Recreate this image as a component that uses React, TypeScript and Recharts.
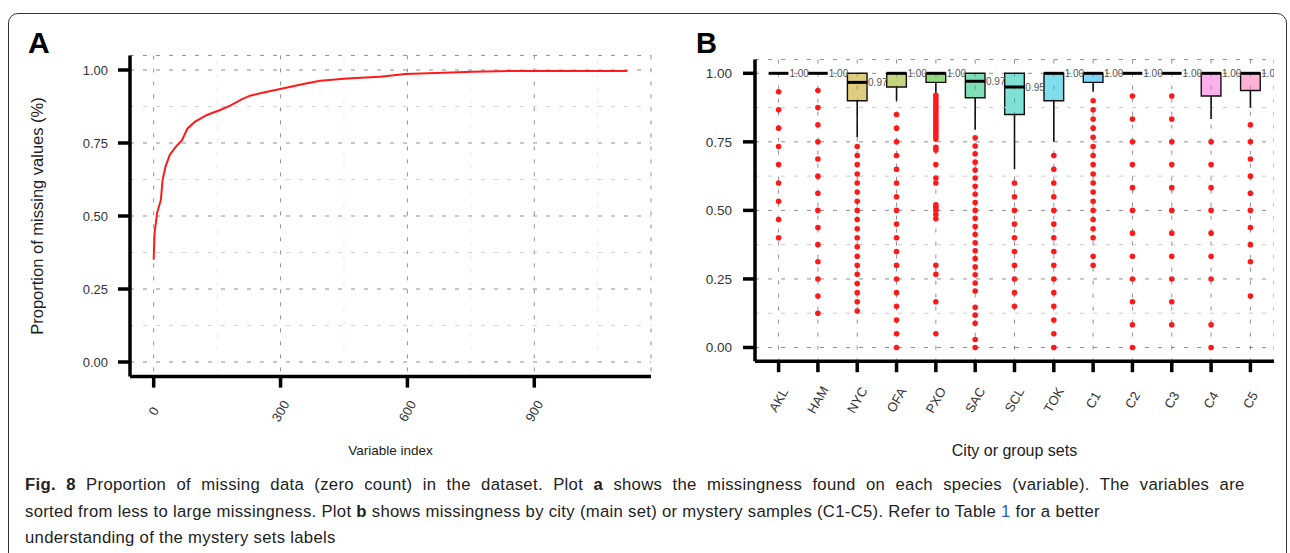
import React from 'react';
import {
  LineChart,
  Line,
  ComposedChart,
  Scatter,
  XAxis,
  YAxis,
  CartesianGrid,
  ReferenceLine,
  ReferenceArea,
} from 'recharts';

const FONT = '"Liberation Sans", Arial, Helvetica, sans-serif';

// ---------- Panel A data ----------
const curveIndex = [0, 2, 8, 17, 21, 28, 38, 51, 67, 80, 98, 126, 157, 181, 209, 228, 260, 299, 354, 394, 457, 535, 595, 685, 755, 865, 1120];
const curveProp = [0.35, 0.44, 0.51, 0.555, 0.623, 0.669, 0.709, 0.735, 0.76, 0.8, 0.823, 0.846, 0.863, 0.878, 0.9, 0.912, 0.923, 0.935, 0.952, 0.963, 0.971, 0.977, 0.986, 0.991, 0.994, 0.997, 0.997];
const curveData = curveIndex.map((x, i) => ({ x, y: curveProp[i] }));

const xTicksA = [0, 300, 600, 900];
const xMinorA = [150, 450, 750, 1050];
const yTicks = [0, 0.25, 0.5, 0.75, 1];
const yMinor = [0.125, 0.375, 0.625, 0.875];

// ---------- Panel B data ----------
const cities = ['AKL', 'HAM', 'NYC', 'OFA', 'PXO', 'SAC', 'SCL', 'TOK', 'C1', 'C2', 'C3', 'C4', 'C5'];
const boxLower = [1, 1, 0.9, 0.95, 0.967, 0.911, 0.85, 0.9, 0.967, 1, 1, 0.917, 0.9375];
const boxMedian = [1, 1, 0.967, 1, 1, 0.971, 0.95, 1, 1, 1, 1, 1, 1];
const boxUpper = [1, 1, 1, 1, 1, 1, 1, 1, 1, 1, 1, 1, 1];
const whiskerLower = [1, 1, 0.767, 0.9, 0.927, 0.794, 0.65, 0.75, 0.933, 1, 1, 0.833, 0.875];
const boxColors = ['#F8766D', '#E18A00', '#BE9C00', '#8CAB00', '#24B700', '#00BE70', '#00C1AB', '#00BBDA', '#00ACFC', '#8B93FF', '#D575FE', '#F962DD', '#FF65AC'];

const outAKL = [0.933, 0.867, 0.8, 0.733, 0.667, 0.6, 0.533, 0.467, 0.4];
const outHAM = [0.9375, 0.875, 0.8125, 0.75, 0.6875, 0.625, 0.5625, 0.5, 0.4375, 0.375, 0.3125, 0.25, 0.1875, 0.125];
const outNYC = [0.733, 0.7, 0.667, 0.633, 0.6, 0.567, 0.533, 0.5, 0.467, 0.433, 0.4, 0.367, 0.333, 0.3, 0.267, 0.233, 0.2, 0.167, 0.133];
const outOFA = [0.85, 0.8, 0.75, 0.7, 0.65, 0.6, 0.55, 0.5, 0.45, 0.4, 0.35, 0.3, 0.25, 0.2, 0.15, 0.1, 0.05, 0];
const outPXO = [0.92, 0.91, 0.9, 0.89, 0.88, 0.87, 0.86, 0.85, 0.84, 0.83, 0.82, 0.81, 0.8, 0.79, 0.78, 0.77, 0.76, 0.73, 0.72, 0.667, 0.618, 0.6, 0.52, 0.51, 0.5, 0.485, 0.47, 0.3, 0.267, 0.167, 0.05];
const outSAC = [0.765, 0.735, 0.706, 0.676, 0.647, 0.618, 0.588, 0.559, 0.529, 0.5, 0.471, 0.441, 0.412, 0.382, 0.353, 0.324, 0.294, 0.265, 0.235, 0.206, 0.147, 0.118, 0.088, 0.029, 0];
const outSCL = [0.6, 0.55, 0.5, 0.45, 0.4, 0.35, 0.3, 0.25, 0.2, 0.15];
const outTOK = [0.7, 0.65, 0.6, 0.55, 0.5, 0.45, 0.4, 0.35, 0.3, 0.25, 0.2, 0.15, 0.1, 0.05, 0];
const outC1 = [0.9, 0.867, 0.833, 0.8, 0.767, 0.733, 0.7, 0.667, 0.633, 0.6, 0.567, 0.533, 0.5, 0.467, 0.433, 0.4, 0.333, 0.3];
const outC2 = [0.917, 0.833, 0.75, 0.667, 0.583, 0.5, 0.417, 0.333, 0.25, 0.167, 0.083, 0];
const outC3 = [0.917, 0.833, 0.75, 0.667, 0.583, 0.5, 0.417, 0.333, 0.25, 0.167, 0.083];
const outC4 = [0.75, 0.667, 0.583, 0.5, 0.417, 0.333, 0.25, 0.083, 0];
const outC5 = [0.8125, 0.75, 0.6875, 0.625, 0.5625, 0.5, 0.4375, 0.375, 0.3125, 0.1875];
const outliers = [outAKL, outHAM, outNYC, outOFA, outPXO, outSAC, outSCL, outTOK, outC1, outC2, outC3, outC4, outC5];

const catPositions = cities.map((_, i) => i + 1);
const outlierData = outliers.flatMap((vals, i) => vals.map((v) => ({ x: i + 1, y: v })));

const BOX_HALF = 0.25;

const axisStroke = { stroke: '#000', strokeWidth: 3.5 };

function makeRotTick(dy: number, fmt: (v: number) => string) {
  return (props: any) => {
    const { x, y, payload } = props;
    return (
      <text
        transform={`translate(${x},${y + dy}) rotate(-60)`}
        textAnchor="middle"
        dominantBaseline="central"
        fontSize={13}
        fill="#333"
        fontFamily={FONT}
      >
        {fmt(payload.value)}
      </text>
    );
  };
}

const OutlierDot = (props: any) => <circle cx={props.cx} cy={props.cy} r={2.8} fill="#ff1a1a" />;

function PanelA() {
  return (
    <LineChart width={660} height={460} data={curveData} margin={{ top: 55.4, right: 9, bottom: 0, left: 0 }}>
      <CartesianGrid stroke="#8f8f8f" strokeDasharray="4 9" strokeWidth={1} />
      {yMinor.map((v) => (
        <ReferenceLine key={'ym' + v} y={v} stroke="#cfcfcf" strokeDasharray="4 9" strokeWidth={0.9} />
      ))}
      {xMinorA.map((v) => (
        <ReferenceLine key={'xm' + v} x={v} stroke="#e8e8e8" strokeDasharray="4 9" strokeWidth={0.9} />
      ))}
      <XAxis
        dataKey="x"
        type="number"
        domain={[-56, 1176]}
        ticks={xTicksA}
        allowDataOverflow
        height={83.4}
        tickSize={11}
        axisLine={axisStroke}
        tickLine={axisStroke}
        tick={makeRotTick(21.4, (v) => String(v))}
        label={{ value: 'Variable index', position: 'insideBottom', offset: 5, fontSize: 13.5, fill: '#222', fontFamily: FONT }}
      />
      <YAxis
        type="number"
        domain={[-0.05, 1.05]}
        ticks={yTicks}
        allowDataOverflow
        width={130}
        tickSize={12}
        tickMargin={10}
        axisLine={axisStroke}
        tickLine={axisStroke}
        tickFormatter={(v: number) => v.toFixed(2)}
        tick={{ fontSize: 13, fill: '#333', fontFamily: FONT }}
        label={{
          value: 'Proportion of missing values (%)',
          angle: -90,
          position: 'insideLeft',
          offset: 37,
          style: { textAnchor: 'middle' },
          fontSize: 16.5,
          fill: '#222',
          fontFamily: FONT,
        }}
      />
      <Line dataKey="y" type="linear" stroke="#ff1a1a" strokeWidth={2} dot={false} isAnimationActive={false} />
    </LineChart>
  );
}

function PanelB() {
  return (
    <ComposedChart width={614} height={470} margin={{ top: 59.6, right: 0, bottom: 0, left: 0 }}>
      <CartesianGrid stroke="#8f8f8f" strokeDasharray="4 9" strokeWidth={1} />
      {yMinor.map((v) => (
        <ReferenceLine key={'ym' + v} y={v} stroke="#c4c4c4" strokeDasharray="4 9" strokeWidth={0.9} />
      ))}
      <XAxis
        dataKey="x"
        type="number"
        domain={[0.4, 13.6]}
        ticks={catPositions}
        allowDataOverflow
        height={108.8}
        tickSize={11}
        axisLine={axisStroke}
        tickLine={axisStroke}
        tick={makeRotTick(25.8, (v) => cities[v - 1])}
        label={{ value: 'City or group sets', position: 'insideBottom', offset: 14.5, fontSize: 16, fill: '#222', fontFamily: FONT }}
      />
      <YAxis
        type="number"
        dataKey="y"
        domain={[-0.05, 1.05]}
        ticks={yTicks}
        allowDataOverflow
        width={95}
        tickSize={12}
        tickMargin={11}
        axisLine={axisStroke}
        tickLine={axisStroke}
        tickFormatter={(v: number) => v.toFixed(2)}
        tick={{ fontSize: 13.5, fill: '#333', fontFamily: FONT }}
      />
      {catPositions.map((c, i) =>
        whiskerLower[i] < boxLower[i] ? (
          <ReferenceLine
            key={'w' + c}
            segment={[
              { x: c, y: whiskerLower[i] },
              { x: c, y: boxLower[i] },
            ]}
            stroke="#111"
            strokeWidth={1.6}
          />
        ) : null
      )}
      {catPositions.map((c, i) =>
        boxUpper[i] > boxLower[i] ? (
          <ReferenceArea
            key={'b' + c}
            x1={c - BOX_HALF}
            x2={c + BOX_HALF}
            y1={boxLower[i]}
            y2={boxUpper[i]}
            fill={boxColors[i]}
            fillOpacity={0.5}
            stroke="#111"
            strokeWidth={1.4}
            strokeOpacity={1}
          />
        ) : null
      )}
      {catPositions.map((c, i) => (
        <ReferenceLine
          key={'m' + c}
          segment={[
            { x: c - BOX_HALF, y: boxMedian[i] },
            { x: c + BOX_HALF, y: boxMedian[i] },
          ]}
          stroke="#000"
          strokeWidth={3}
          label={{ value: boxMedian[i].toFixed(2), position: 'right', offset: 1, fontSize: 10, fill: '#555', fontFamily: FONT }}
        />
      ))}
      <Scatter data={outlierData} dataKey="y" shape={OutlierDot} isAnimationActive={false} />
    </ComposedChart>
  );
}

export default function App() {
  const captionLine: React.CSSProperties = {
    position: 'absolute',
    left: 25,
    whiteSpace: 'nowrap',
    fontFamily: '"Liberation Sans", Arial, sans-serif',
    fontSize: 16.7,
    letterSpacing: 0.3,
    lineHeight: '22px',
    color: '#222',
  };
  return (
    <div style={{ position: 'absolute', left: 0, top: 0, width: 1290, height: 553, overflow: 'hidden', background: '#fff' }}>
      <div
        style={{
          position: 'absolute',
          left: 8,
          top: 13,
          width: 1279,
          height: 600,
          border: '1.5px solid #333',
          borderRadius: 10,
          boxSizing: 'border-box',
        }}
      />
      <div style={{ position: 'absolute', left: 0, top: 0 }}>
        <PanelA />
      </div>
      <div style={{ position: 'absolute', left: 660, top: 0 }}>
        <PanelB />
      </div>
      <svg style={{ position: 'absolute', left: 0, top: 0 }} width={1290} height={80}>
        <text x={28} y={53.3} fontFamily={FONT} fontWeight="bold" fontSize={30} fill="#000">A</text>
        <text x={696} y={52.5} fontFamily={FONT} fontWeight="bold" fontSize={29} fill="#000">B</text>
      </svg>
      <div style={{ ...captionLine, top: 474, wordSpacing: 5.4 }}>
        <b>Fig. 8</b> Proportion of missing data (zero count) in the dataset. Plot <b>a</b> shows the missingness found on each species (variable). The variables are
      </div>
      <div style={{ ...captionLine, top: 501 }}>
        sorted from less to large missingness. Plot <b>b</b> shows missingness by city (main set) or mystery samples (C1-C5). Refer to Table{' '}
        <span style={{ color: '#2a5db0' }}>1</span> for a better
      </div>
      <div style={{ ...captionLine, top: 527 }}>understanding of the mystery sets labels</div>
    </div>
  );
}
